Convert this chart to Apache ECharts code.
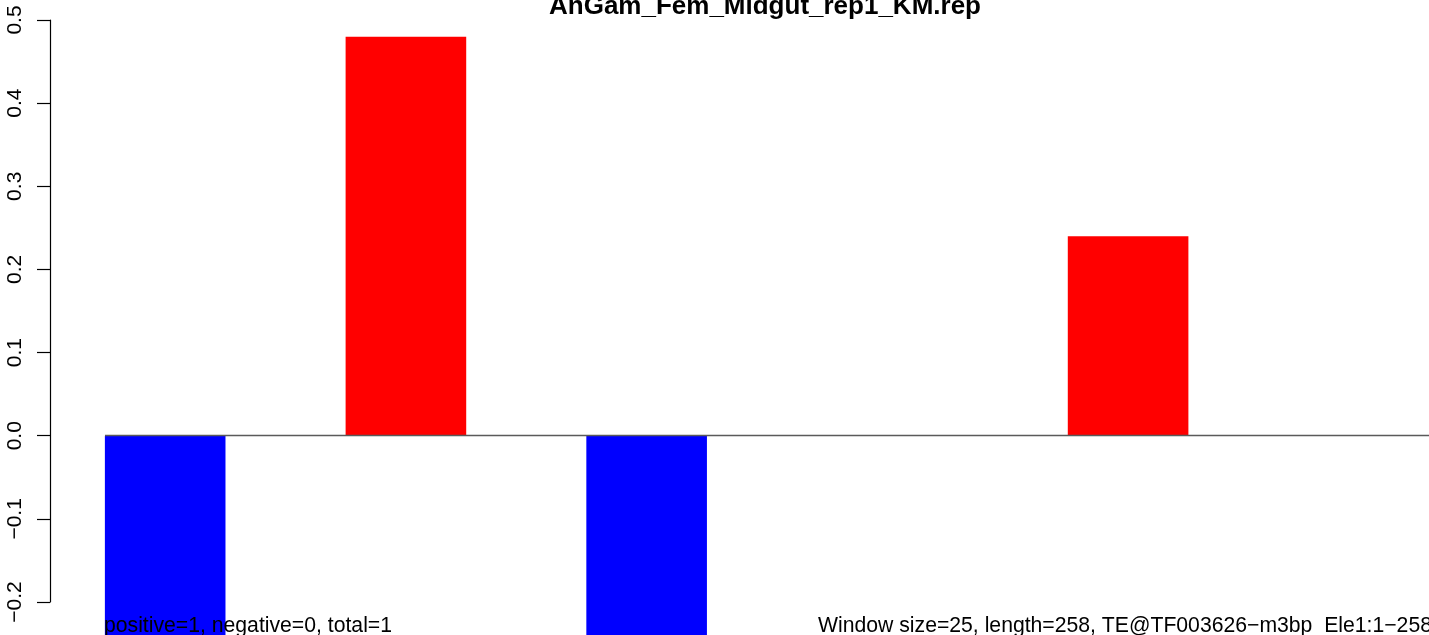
<!DOCTYPE html>
<html>
<head>
<meta charset="utf-8">
<script src="https://cdn.jsdelivr.net/npm/echarts@6/dist/echarts.min.js"></script>
<style>
html,body{margin:0;padding:0;background:#fff;}
#chart{width:1429px;height:635px;}
</style>
</head>
<body>
<div id="chart"></div>
<script>
const chartTitle = 'AnGam_Fem_Midgut_rep1_KM.rep';
const barIndex = [1, 2, 3, 4, 5, 6];
const barValues = [-0.48, 0.48, -0.48, 0, 0.24, 0];
const yTicks = [-0.2, -0.1, 0.0, 0.1, 0.2, 0.3, 0.4, 0.5];
const leftNote = 'positive=1, negative=0, total=1';
const rightNote = 'Window size=25, length=258, TE@TF003626\u2212m3bp  Ele1:1\u2212258';

const FONT = '"Liberation Sans", Arial, Helvetica, sans-serif';
const chart = echarts.init(document.getElementById('chart'), null, {renderer: 'canvas'});

const barData = barIndex.map((b, i) => ({
  value: [2 * b - 0.5, barValues[i]],
  itemStyle: {color: barValues[i] < 0 ? '#0000FF' : '#FF0000'}
}));

chart.setOption({
  animation: false,
  backgroundColor: '#ffffff',
  grid: {left: 105, top: 20, width: 1326.6, height: 582, containLabel: false},
  xAxis: {type: 'value', min: 1, max: 12, show: false},
  yAxis: {
    type: 'value',
    min: yTicks[0],
    max: yTicks[yTicks.length - 1],
    interval: 0.1,
    offset: 55,
    axisLine: {show: true, onZero: false, lineStyle: {color: '#000', width: 1.2}},
    axisTick: {show: true, length: 13, lineStyle: {color: '#000', width: 1.2}},
    splitLine: {show: false},
    axisLabel: {
      rotate: 90,
      margin: 24,
      color: '#000',
      fontSize: 21,
      fontFamily: FONT,
      formatter: v => {
        const s = Math.abs(v).toFixed(1);
        return (v < -1e-9 ? '\u2212' : '') + s;
      }
    }
  },
  series: [{
    type: 'bar',
    data: barData,
    barWidth: 120.6,
    clip: false,
    markLine: {
      silent: true,
      symbol: 'none',
      label: {show: false},
      lineStyle: {color: '#5a5a5a', width: 1.3, type: 'solid'},
      data: [{yAxis: 0}]
    }
  }],
  graphic: [
    {type: 'text', x: 765, y: 7, silent: true,
     style: {text: chartTitle, font: 'bold 26px ' + FONT, fill: '#000', align: 'center', verticalAlign: 'middle'}},
    {type: 'text', x: 104, y: 626.5, silent: true, z: 100,
     style: {text: leftNote, font: '21.2px ' + FONT, fill: '#000', align: 'left', verticalAlign: 'middle'}},
    {type: 'text', x: 818, y: 626.5, silent: true, z: 100,
     style: {text: rightNote, font: '21.2px ' + FONT, fill: '#000', align: 'left', verticalAlign: 'middle'}}
  ]
});
</script>
</body>
</html>
